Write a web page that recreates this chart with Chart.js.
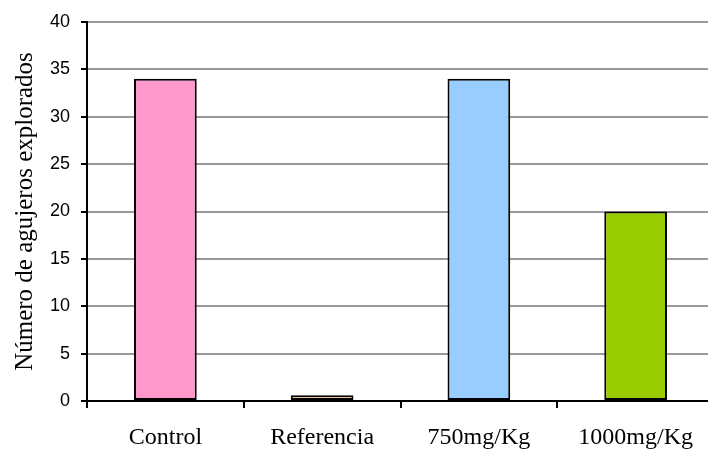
<!DOCTYPE html>
<html>
<head>
<meta charset="utf-8">
<script src="https://cdn.jsdelivr.net/npm/chart.js@4"></script>
<style>
  html, body { margin: 0; padding: 0; overflow: hidden; background: #fff; }
  #wrap { width: 720px; height: 451px; }
</style>
</head>
<body>
<div id="wrap"><canvas id="myChart" width="720" height="451"></canvas></div>
<script>
var categories = ["Control", "Referencia", "750mg/Kg", "1000mg/Kg"];
var values = [34, 0.6, 34, 20];
var barColors = ["#FF99CC", "#FFCC99", "#99CCFF", "#99CC00"];
var yTitle = "Número de agujeros explorados";

const el = document.getElementById('myChart');

const data = {
    labels: categories,
    datasets: [{
        data: values,
        backgroundColor: barColors,
        borderColor: '#000',
        borderWidth: 2,
        borderSkipped: false,
        categoryPercentage: 1,
        barPercentage: 0.4
    }]
};

const config = {
    type: 'bar',
    data: data,
    options: {
        responsive: false,
        animation: false,
        layout: { padding: { top: 22, right: 6, left: 0, bottom: 0 } },
        plugins: {
            legend: { display: false },
            tooltip: { enabled: false }
        },
        scales: {
            x: {
                offset: true,
                afterFit: function (scale) { scale.height = 50; },
                border: { color: '#000', width: 2 },
                grid: {
                    offset: true,
                    drawOnChartArea: false,
                    drawTicks: true,
                    tickLength: 7,
                    tickColor: '#000',
                    lineWidth: 2
                },
                ticks: {
                    color: '#000',
                    padding: 15,
                    font: { family: '"Liberation Serif", "DejaVu Serif", serif', size: 24 }
                }
            },
            y: {
                min: 0,
                max: 40,
                afterFit: function (scale) { scale.width = 87; },
                border: { color: '#000', width: 2 },
                grid: {
                    color: function (ctx) { return ctx.index === 0 ? 'rgba(0,0,0,0)' : '#999'; },
                    lineWidth: 2,
                    drawTicks: true,
                    tickLength: 6,
                    tickColor: '#000'
                },
                ticks: {
                    stepSize: 5,
                    color: '#000',
                    padding: 11,
                    font: { family: '"Liberation Sans", Arial, sans-serif', size: 18 }
                },
                title: {
                    display: true,
                    text: yTitle,
                    color: '#000',
                    padding: { top: 10, bottom: 0 },
                    font: { family: '"Liberation Serif", "DejaVu Serif", serif', size: 25 }
                }
            }
        }
    }
};

new Chart(el, config);
</script>
</body>
</html>
